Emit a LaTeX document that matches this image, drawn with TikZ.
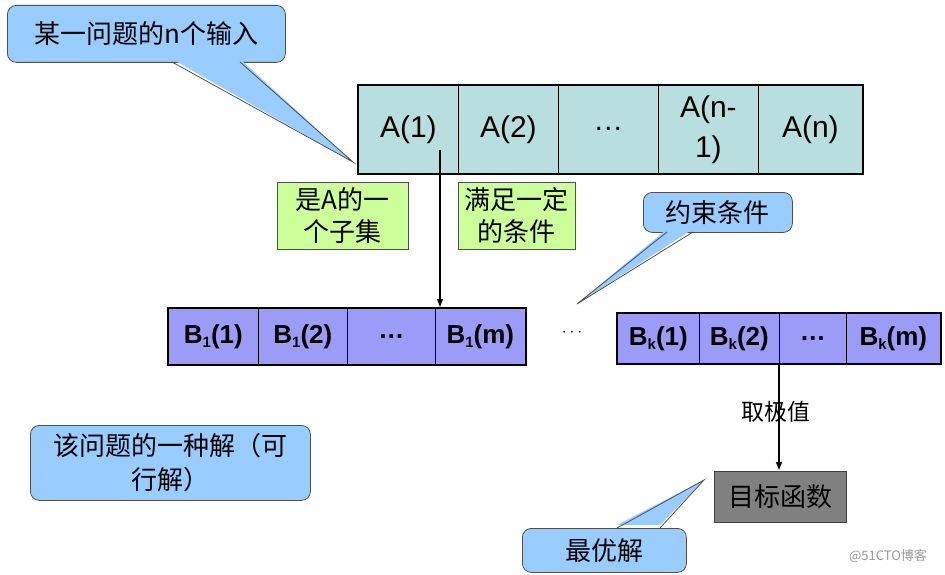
\documentclass[tikz,border=0pt]{standalone}
\usepackage{fontspec}
\setmainfont{Liberation Sans}
\newfontfamily\cjk{Noto Sans CJK SC}
\usetikzlibrary{arrows.meta,calc}
\definecolor{callfill}{HTML}{99CCFF}
\definecolor{callline}{HTML}{505050}
\definecolor{acell}{HTML}{B8DEE0}
\definecolor{bcell}{HTML}{9C9CF8}
\definecolor{greenbox}{HTML}{CCFF99}
\definecolor{graybox}{HTML}{808080}
\newcommand{\bsub}[1]{\raisebox{-0.35ex}{\fontsize{15}{15}\selectfont #1}}
\tikzset{
  acellbox/.style={draw=black, line width=0.7pt, fill=acell, minimum width=100pt, minimum height=88pt, inner sep=0pt, anchor=north west, font=\fontsize{30}{40}\selectfont, align=center},
  bcellbox/.style={draw=black, line width=0.7pt, fill=bcell, minimum height=56pt, inner sep=0pt, anchor=north west, font=\fontsize{26}{28}\selectfont\bfseries},
  calloutbox/.style={draw=callline, line width=0.8pt, fill=callfill, rounded corners=9pt, inner sep=0pt, anchor=north west, font=\cjk\fontsize{26}{34}\selectfont, align=center},
  notebox/.style={draw=callline, line width=0.6pt, fill=greenbox, inner sep=0pt, anchor=north west, font=\cjk\fontsize{26}{32}\selectfont, align=center},
  thickframe/.style={draw=black, line width=2.2pt},
  mainarrow/.style={line width=1.8pt, -{Latex[length=9pt,width=7pt]}},
}
\newcommand{\callptr}[3]{%
  \fill[callfill] ($#1+(0,-3)$) -- #3 -- ($#2+(0,-3)$) -- cycle;
  \draw[callline, line width=0.8pt] #1 -- #3 -- #2;}
\begin{document}
\begin{tikzpicture}[x=1pt,y=-1pt]
\fill[white] (0,0) rectangle (945,575);
\useasboundingbox (0,0) rectangle (945,575);

% top callout
\node[calloutbox, minimum width=278pt, minimum height=57pt] (c1) at (7,5) {某一问题的n个输入};
\coordinate (c1a) at (172,62);
\coordinate (c1b) at (240,62);
\coordinate (c1t) at (353,162);
\callptr{(c1a)}{(c1b)}{(c1t)}

% A row
\node[acellbox] (a1) at (358,85) {A(1)};
\node[acellbox] (a2) at (458,85) {A(2)};
\node[acellbox] (a3) at (558,85) {\dots};
\node[acellbox] (a4) at (658,85) {A(n-\\1)};
\node[acellbox, minimum width=104pt] (a5) at (758,85) {A(n)};
\draw[thickframe] (a1.north west) rectangle (a5.south east);

% green notes
\node[notebox, minimum width=131pt, minimum height=67pt] (g1) at (277,182) {是A的一\\个子集};
\node[notebox, minimum width=117pt, minimum height=67pt] (g2) at (458,182) {满足一定\\的条件};

% B1 row
\node[bcellbox, minimum width=90pt] (b1) at (168,308) {B\bsub{1}(1)};
\node[bcellbox, minimum width=89pt] (b2) at (258,308) {B\bsub{1}(2)};
\node[bcellbox, minimum width=88pt] (b3) at (347,308) {\dots};
\node[bcellbox, minimum width=90pt] (b4) at (435,308) {B\bsub{1}(m)};
\draw[thickframe] (b1.north west) rectangle (b4.south east);

\coordinate (afrom) at (440,150);
\draw[mainarrow] (afrom) -- (b4.north west -| afrom);

\node[font=\fontsize{18}{20}\selectfont] (dots) at (572,333) {$\cdots$};

% constraint callout
\node[calloutbox, minimum width=149pt, minimum height=40pt] (c2) at (643,192) {约束条件};
\coordinate (c2a) at (667,232);
\coordinate (c2b) at (693,232);
\coordinate (c2t) at (577,304);
\callptr{(c2a)}{(c2b)}{(c2t)}

% Bk row
\node[bcellbox, minimum width=82pt, minimum height=50pt] (k1) at (617,313) {B\bsub{k}(1)};
\node[bcellbox, minimum width=80pt, minimum height=50pt] (k2) at (699,313) {B\bsub{k}(2)};
\node[bcellbox, minimum width=67pt, minimum height=50pt] (k3) at (779,313) {\dots};
\node[bcellbox, minimum width=94pt, minimum height=50pt] (k4) at (846,313) {B\bsub{k}(m)};
\draw[thickframe] (k1.north west) rectangle (k4.south east);

% objective
\node[draw=black!75, line width=0.8pt, fill=graybox, minimum width=132pt, minimum height=51pt, inner sep=0pt, anchor=north west, font=\cjk\fontsize{26}{30}\selectfont] (obj) at (714,471) {目标函数};
\draw[mainarrow] (k3.south west) -- (obj.north -| k3.south west);
\node[font=\cjk\fontsize{23}{26}\selectfont] (ext) at (776,412) {取极值};

% solution callout
\node[calloutbox, minimum width=280pt, minimum height=75pt] (c3) at (30,425) {该问题的一种解（可\\行解）};

% optimal callout
\node[calloutbox, minimum width=164pt, minimum height=44pt] (c4) at (522,528) {最优解};
\coordinate (c4a) at (617,528);
\coordinate (c4b) at (660,528);
\coordinate (c4t) at (704,480);
\callptr{(c4a)}{(c4b)}{(c4t)}

% watermark
\node[font=\cjk\fontsize{13}{15}\selectfont, text=black!40] (wm) at (888,556) {@51CTO博客};
\end{tikzpicture}
\end{document}
